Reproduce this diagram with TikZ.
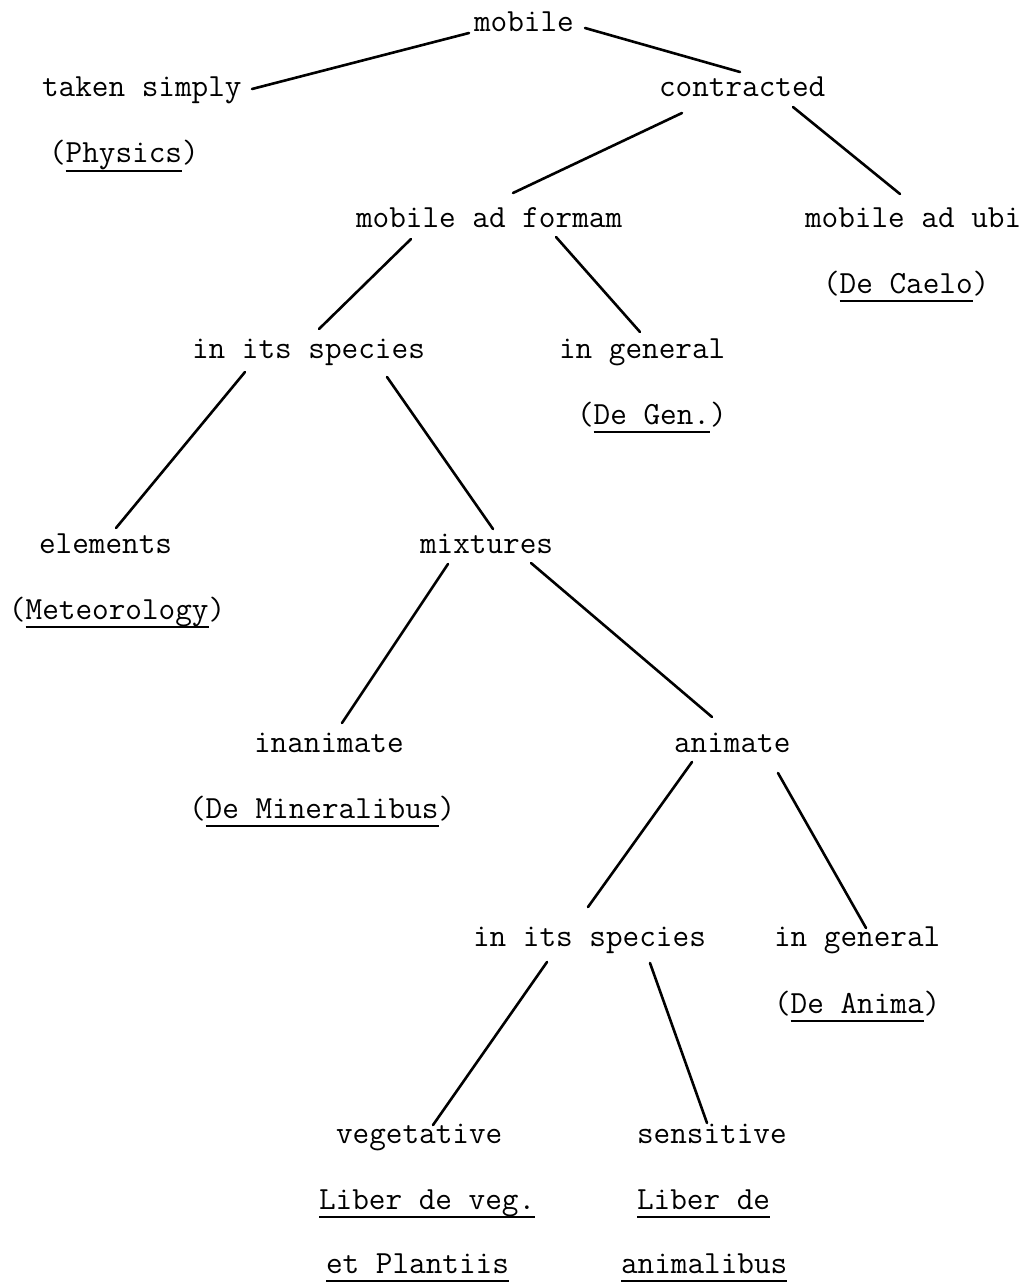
\documentclass[tikz,border=0pt]{standalone}
\usepackage{fontspec}
\newcommand\tw{\ttfamily\addfontfeatures{FakeBold=3}}
\newcommand\ulbook[1]{\setbox0\hbox{#1}\rlap{\rule[-9pt]{\wd0}{2.2pt}}\box0}
\tikzset{
  lbl/.style={anchor=base west, inner sep=0pt, outer sep=0pt, font=\tw\fontsize{32.3}{35}\selectfont},
  conn/.style={line width=2.6pt, line cap=round}
}
\begin{document}
\begin{tikzpicture}[x=1pt,y=-1pt]
\fill[white] (0,0) rectangle (1024,1284);
\useasboundingbox (0,0) rectangle (1024,1284);
% nodes
\node[lbl] (mobile)     at (474,32)   {mobile};
\node[lbl] (taken)      at (42,97)    {taken simply};
\node[lbl] (contracted) at (659,97)   {contracted};
\node[lbl] (physics)    at (49,163)   {(\ulbook{Physics})};
\node[lbl] (formam)     at (356,227)  {mobile ad formam};
\node[lbl] (ubi)        at (805,227)  {mobile ad ubi};
\node[lbl] (caelo)      at (823,293)  {(\ulbook{De Caelo})};
\node[lbl] (species1)   at (192,358)  {in its species};
\node[lbl] (general1)   at (559,358)  {in general};
\node[lbl] (degen)      at (577,424)  {(\ulbook{De Gen.})};
\node[lbl] (elements)   at (39,553)   {elements};
\node[lbl] (mixtures)   at (420,553)  {mixtures};
\node[lbl] (meteo)      at (9,619)    {(\ulbook{Meteorology})};
\node[lbl] (inanimate)  at (254,752)  {inanimate};
\node[lbl] (animate)    at (674,752)  {animate};
\node[lbl] (mineral)    at (189,818)  {(\ulbook{De Mineralibus})};
\node[lbl] (species2)   at (473,946)  {in its species};
\node[lbl] (general2)   at (774,946)  {in general};
\node[lbl] (anima)      at (774,1013) {(\ulbook{De Anima})};
\node[lbl] (veget)      at (336,1143) {vegetative};
\node[lbl] (sensit)     at (637,1143) {sensitive};
\node[lbl] (liberveg)   at (319,1209) {\ulbook{Liber de veg.}};
\node[lbl] (liberde)    at (637,1209) {\ulbook{Liber de}};
\node[lbl] (plantiis)   at (326,1273) {\ulbook{et Plantiis}};
\node[lbl] (animalibus) at (621,1273) {\ulbook{animalibus}};
% connectors
\draw[conn] ([shift={(-5,1)}]mobile.base west) -- ([shift={(210,-8)}]taken.base west);
\draw[conn] ([shift={(111,-4)}]mobile.base west) -- ([shift={(81,-25)}]contracted.base west);
\draw[conn] ([shift={(23,16)}]contracted.base west) -- ([shift={(157,-34)}]formam.base west);
\draw[conn] ([shift={(134,10)}]contracted.base west) -- ([shift={(95,-33)}]ubi.base west);
\draw[conn] ([shift={(55,12)}]formam.base west) -- ([shift={(127,-29)}]species1.base west);
\draw[conn] ([shift={(200,10)}]formam.base west) -- ([shift={(81,-26)}]general1.base west);
\draw[conn] ([shift={(53,14)}]species1.base west) -- ([shift={(77,-25)}]elements.base west);
\draw[conn] ([shift={(195,19)}]species1.base west) -- ([shift={(73,-24)}]mixtures.base west);
\draw[conn] ([shift={(28,11)}]mixtures.base west) -- ([shift={(88,-29)}]inanimate.base west);
\draw[conn] ([shift={(111,10)}]mixtures.base west) -- ([shift={(38,-35)}]animate.base west);
\draw[conn] ([shift={(18,10)}]animate.base west) -- ([shift={(115,-39)}]species2.base west);
\draw[conn] ([shift={(104,21)}]animate.base west) -- ([shift={(92,-18)}]general2.base west);
\draw[conn] ([shift={(74,16)}]species2.base west) -- ([shift={(97,-18)}]veget.base west);
\draw[conn] ([shift={(177,17)}]species2.base west) -- ([shift={(70,-20)}]sensit.base west);
\end{tikzpicture}
\end{document}
